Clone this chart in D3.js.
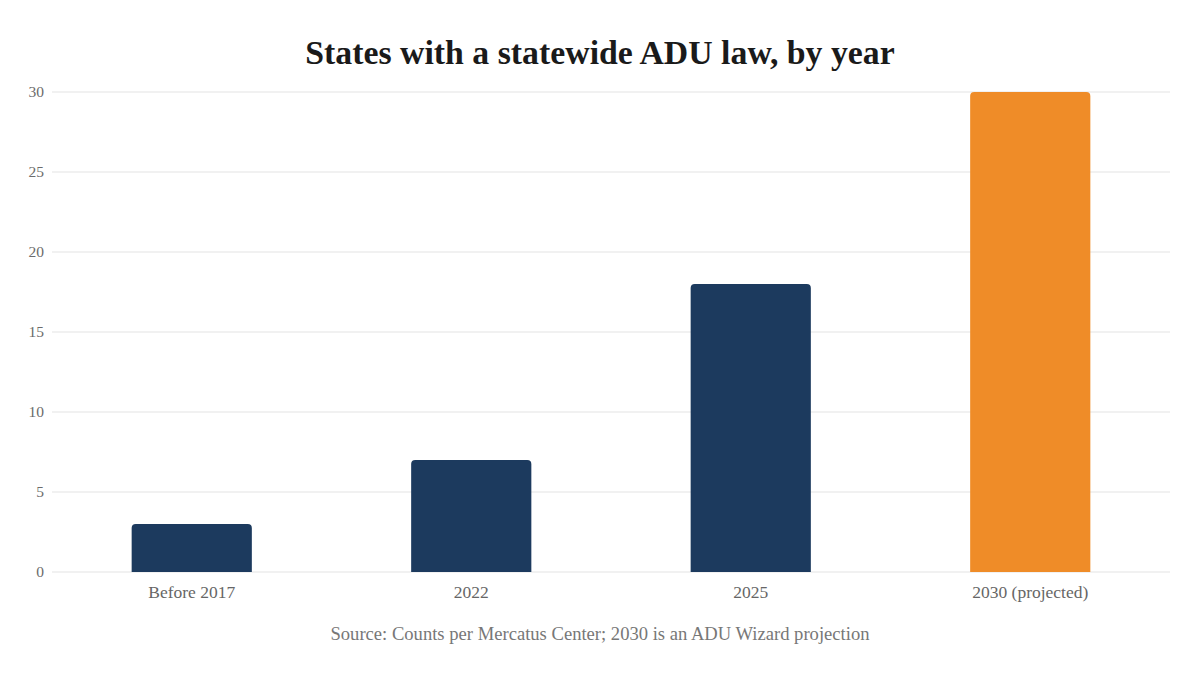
<!DOCTYPE html>
<html>
<head>
<meta charset="utf-8">
<script src="https://cdn.jsdelivr.net/npm/d3@7"></script>
<style>
  body { margin: 0; background: #fff; }
  svg text { font-family: "Liberation Serif", "DejaVu Serif", serif; }
</style>
</head>
<body>
<div id="chart"></div>
<script>
const categories = ["Before 2017", "2022", "2025", "2030 (projected)"];
const values = [3, 7, 18, 30];
const barColors = ["#1c3a5e", "#1c3a5e", "#1c3a5e", "#ef8c28"];
const yTicks = [0, 5, 10, 15, 20, 25, 30];

const width = 1200, height = 675;
const margin = { top: 92, right: 30, bottom: 103, left: 52 };

const svg = d3.select("#chart").append("svg")
  .attr("width", width)
  .attr("height", height);

const x = d3.scaleBand()
  .domain(categories)
  .range([margin.left, width - margin.right])
  .paddingInner(0.57)
  .paddingOuter(0.285);

const y = d3.scaleLinear()
  .domain([0, 30])
  .range([height - margin.bottom, margin.top]);

// gridlines
svg.append("g")
  .selectAll("line")
  .data(yTicks)
  .join("line")
  .attr("x1", margin.left)
  .attr("x2", width - margin.right)
  .attr("y1", d => y(d))
  .attr("y2", d => y(d))
  .attr("stroke", "#e3e3e3")
  .attr("stroke-width", 1);

// y axis labels
const yAxis = d3.axisLeft(y).tickValues(yTicks).tickSize(0).tickPadding(8);
svg.append("g")
  .attr("transform", `translate(${margin.left},0)`)
  .call(yAxis)
  .call(g => g.select(".domain").remove())
  .call(g => g.selectAll("text")
    .attr("fill", "#6b6b6b")
    .style("font-size", "15.5px")
    .style("font-family", "Liberation Serif, serif"));

// bars with rounded top corners
const r = 4;
function barPath(d, i) {
  const x0 = x(categories[i]), w = x.bandwidth();
  const yt = y(d), yb = y(0);
  return `M${x0},${yb}V${yt + r}Q${x0},${yt} ${x0 + r},${yt}H${x0 + w - r}Q${x0 + w},${yt} ${x0 + w},${yt + r}V${yb}Z`;
}
svg.append("g")
  .selectAll("path")
  .data(values)
  .join("path")
  .attr("d", barPath)
  .attr("fill", (d, i) => barColors[i]);

// x axis labels
const xAxis = d3.axisBottom(x).tickSize(0).tickPadding(14);
svg.append("g")
  .attr("transform", `translate(0,${y(0)})`)
  .call(xAxis)
  .call(g => g.select(".domain").remove())
  .call(g => g.selectAll("text")
    .attr("fill", "#666")
    .style("font-size", "17.5px")
    .style("font-family", "Liberation Serif, serif"));

// title
svg.append("text")
  .attr("x", width / 2)
  .attr("y", 64)
  .attr("text-anchor", "middle")
  .attr("fill", "#1a1a1a")
  .style("font-size", "33.8px")
  .style("font-weight", "bold")
  .text("States with a statewide ADU law, by year");

// source note
svg.append("text")
  .attr("x", width / 2)
  .attr("y", 640)
  .attr("text-anchor", "middle")
  .attr("fill", "#777")
  .style("font-size", "18.6px")
  .text("Source: Counts per Mercatus Center; 2030 is an ADU Wizard projection");
</script>
</body>
</html>
